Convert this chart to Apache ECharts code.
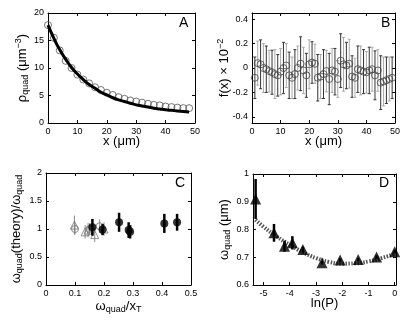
<!DOCTYPE html>
<html>
<head>
    <script src="https://cdn.jsdelivr.net/npm/echarts@6/dist/echarts.min.js"></script>
</head>
<body style="margin:0">
<div id="main" style="width: 415px; height: 323px;"></div>
</body>
</html>

<script type="text/javascript">
    // panel A
    const rhoX = [0, 2, 4, 6, 8, 10, 12, 14, 16, 18, 20, 22, 24, 26, 28, 30, 32, 34, 36, 38, 40, 42, 44, 46, 48]
    const rhoVal = [17.8, 15.5, 13.2, 11.3, 10.0, 8.8, 7.9, 7.2, 6.5, 6.0, 5.5, 5.1, 4.7, 4.4, 4.1, 3.9, 3.7, 3.5, 3.3, 3.2, 3.0, 2.9, 2.8, 2.7, 2.7]
    const rhoFit = [17.8, 15.4, 13.3, 11.6, 10.1, 8.9, 7.9, 7.0, 6.3, 5.6, 5.1, 4.6, 4.2, 3.9, 3.6, 3.3, 3.1, 2.9, 2.7, 2.55, 2.4, 2.3, 2.2, 2.1, 2.0]

    // panel B
    const fX = [1, 2, 3, 4, 5, 6, 7, 8, 9, 10, 11, 12, 13, 14, 15, 16, 17, 18, 19, 20, 21, 22, 23, 24, 25,
        26, 27, 28, 29, 30, 31, 32, 33, 34, 35, 36, 37, 38, 39, 40, 41, 42, 43, 44, 45, 46, 47, 48, 49]
    const fVal = [-0.08, 0.04, 0.03, 0, -0.01, -0.025, -0.035, -0.05, -0.06, -0.03, 0, 0.02, -0.06, -0.08, -0.05,
        0, 0.035, -0.02, -0.06, 0.03, 0.045, 0.035, -0.08, -0.07, -0.05, -0.025, -0.09, -0.02, -0.03, -0.09,
        0.06, 0.03, 0.02, 0.035, -0.07, -0.08, -0.01, -0.02, -0.03, -0.035, -0.02, -0.01, -0.06, -0.02, -0.12,
        -0.11, -0.1, -0.09, -0.08]
    const fErr = [0.17, 0.18, 0.2, 0.2, 0.19, 0.17, 0.18, 0.2, 0.17, 0.19, 0.21, 0.18, 0.19, 0.17, 0.2, 0.18, 0.22,
        0.19, 0.18, 0.2, 0.17, 0.16, 0.19, 0.18, 0.2, 0.17, 0.21, 0.18, 0.19, 0.15, 0.22, 0.22, 0.19, 0.2, 0.17,
        0.16, 0.19, 0.2, 0.18, 0.17, 0.19, 0.18, 0.2, 0.17, 0.22, 0.2, 0.19, 0.18, 0.17]

    // panel C
    const triX = [0.098, 0.135, 0.145, 0.168, 0.2]
    const triVal = [1.07, 0.95, 0.98, 0.9, 1.0]
    const triErr = [0.17, 0.12, 0.13, 0.13, 0.12]
    const ocX = [0.1, 0.15, 0.185]
    const ocVal = [1.0, 1.0, 1.05]
    const ocErr = [0.1, 0.1, 0.12]
    const dotX = [0.16, 0.195, 0.252, 0.285, 0.29, 0.408, 0.452]
    const dotVal = [1.03, 0.99, 1.12, 0.98, 0.95, 1.1, 1.12]
    const dotErr = [0.15, 0.1, 0.17, 0.14, 0.12, 0.17, 0.15]

    // panel D
    const lnP = [-5.3, -4.6, -4.2, -3.9, -3.5, -2.77, -2.08, -1.39, -0.69, 0]
    const wQuad = [0.91, 0.788, 0.74, 0.752, 0.728, 0.68, 0.69, 0.692, 0.701, 0.72]
    const wErr = [0.072, 0.032, 0.02, 0.024, 0.01, 0.006, 0.006, 0.006, 0.006, 0.006]
    const fitLnP = [-5.3, -5, -4.5, -4, -3.5, -3, -2.5, -2, -1.5, -1, -0.5, 0]
    const fitW = [0.835, 0.81, 0.775, 0.745, 0.718, 0.697, 0.683, 0.677, 0.678, 0.685, 0.697, 0.712]

    const font = 'Liberation Sans'
    const rich = {
        n: {fontSize: 13, fontFamily: font, color: '#000'},
        sub: {fontSize: 9, fontFamily: font, color: '#000', padding: [7, 0, 0, 0]},
        sup: {fontSize: 9, fontFamily: font, color: '#000', padding: [0, 0, 7, 0]}
    }

    function pairs(xs, ys, es) {
        return xs.map((x, i) => es ? [x, ys[i], es[i]] : [x, ys[i]])
    }

    // main axis + mirrored axis (top / right) carrying only inside ticks
    function axes(dim, grid, min, max, ticks, name, gap) {
        let main = {
            type: 'value', gridIndex: grid, min: min, max: max,
            position: dim === 'x' ? 'bottom' : 'left',
            splitLine: {show: false},
            axisLine: {onZero: false, lineStyle: {color: '#000', width: 1}},
            axisTick: {inside: true, length: 3, customValues: ticks, lineStyle: {color: '#000'}},
            axisLabel: {customValues: ticks, fontSize: 9, fontFamily: font, color: '#000', margin: 4},
            name: name, nameLocation: 'middle', nameGap: gap, nameMoveOverlap: false,
            nameTextStyle: {rich: rich}
        }
        let mirror = {
            type: 'value', gridIndex: grid, min: min, max: max,
            position: dim === 'x' ? 'top' : 'right',
            splitLine: {show: false},
            axisLine: {onZero: false, lineStyle: {color: '#000', width: 1}},
            axisTick: {inside: true, length: 3, customValues: ticks, lineStyle: {color: '#000'}},
            axisLabel: {show: false}
        }
        return [main, mirror]
    }

    function errBar(color, width, cap) {
        return function (params, api) {
            let x = api.value(0), y = api.value(1), e = api.value(2)
            let top = api.coord([x, y + e])
            let bot = api.coord([x, y - e])
            let c = typeof color === 'function' ? color(params.dataIndex) : color
            let st = {stroke: c, lineWidth: width}
            let kids = [{type: 'line', shape: {x1: top[0], y1: top[1], x2: bot[0], y2: bot[1]}, style: st}]
            if (cap) {
                kids.push({type: 'line', shape: {x1: top[0] - cap, y1: top[1], x2: top[0] + cap, y2: top[1]}, style: st})
                kids.push({type: 'line', shape: {x1: bot[0] - cap, y1: bot[1], x2: bot[0] + cap, y2: bot[1]}, style: st})
            }
            return {type: 'group', children: kids}
        }
    }

    let chart = echarts.init(document.getElementById('main'))

    let ax = [
        axes('x', 0, 0, 50, [0, 10, 20, 30, 40, 50], '{n|x (μm)}', 12),
        axes('x', 1, 0, 50, [0, 10, 20, 30, 40, 50], '{n|x (μm)}', 12),
        axes('x', 2, 0, 0.5, [0, 0.1, 0.2, 0.3, 0.4, 0.5], '{n|ω}{sub|quad}{n|/x}{sub|T}', 13),
        axes('x', 3, -5.4, 0.05, [-5, -4, -3, -2, -1, 0], '{n|ln(P)}', 12)
    ]
    let ay = [
        axes('y', 0, 0, 20, [0, 5, 10, 15, 20], '{n|ρ}{sub|quad}{n| (μm}{sup|−3}{n|)}', 18),
        axes('y', 1, -0.45, 0.45, [-0.4, -0.2, 0, 0.2, 0.4], '{n|f(x) × 10}{sup|−2}', 20),
        axes('y', 2, 0, 2, [0, 0.5, 1, 1.5, 2], '{n|ω}{sub|quad}{n|(theory)/ω}{sub|quad}', 22),
        axes('y', 3, 0.6, 1, [0.6, 0.7, 0.8, 0.9, 1], '{n|ω}{sub|quad}{n| (μm)}', 21)
    ]
    let xAxis = [], yAxis = []
    ax.forEach(p => xAxis.push(p[0], p[1]))
    ay.forEach(p => yAxis.push(p[0], p[1]))

    let option = {
        animation: false,
        backgroundColor: '#fff',
        grid: [
            {left: 48, top: 13, width: 147, height: 110},
            {left: 252, top: 13, width: 143, height: 110},
            {left: 46, top: 173, width: 145, height: 112},
            {left: 253, top: 174, width: 143, height: 111}
        ],
        xAxis: xAxis,
        yAxis: yAxis,
        graphic: [
            {type: 'text', left: 179, top: 16, style: {text: 'A', fontSize: 14, fontFamily: font, fill: '#000'}},
            {type: 'text', left: 381, top: 16, style: {text: 'B', fontSize: 14, fontFamily: font, fill: '#000'}},
            {type: 'text', left: 175, top: 176, style: {text: 'C', fontSize: 14, fontFamily: font, fill: '#000'}},
            {type: 'text', left: 379, top: 176, style: {text: 'D', fontSize: 14, fontFamily: font, fill: '#000'}}
        ],
        series: [
            // A
            {
                type: 'scatter', xAxisIndex: 0, yAxisIndex: 0, data: pairs(rhoX, rhoVal),
                symbol: 'circle', symbolSize: 7,
                itemStyle: {color: 'rgba(0,0,0,0)', borderColor: '#555', borderWidth: 1}
            },
            {
                type: 'line', xAxisIndex: 0, yAxisIndex: 0, data: pairs(rhoX, rhoFit),
                smooth: true, showSymbol: false, lineStyle: {color: '#000', width: 3}, z: 3
            },
            // B
            {
                type: 'custom', xAxisIndex: 2, yAxisIndex: 2, data: pairs(fX, fVal, fErr),
                renderItem: errBar(i => i % 2 ? '#aaa' : '#333', 1, 1.5), z: 1
            },
            {
                type: 'scatter', xAxisIndex: 2, yAxisIndex: 2, data: pairs(fX, fVal),
                symbol: 'circle', symbolSize: 7,
                itemStyle: {color: 'rgba(0,0,0,0)', borderColor: '#444', borderWidth: 1}, z: 3
            },
            // C
            {
                type: 'custom', xAxisIndex: 4, yAxisIndex: 4, data: pairs(triX, triVal, triErr),
                renderItem: errBar('#888', 1, 0), z: 1
            },
            {
                type: 'custom', xAxisIndex: 4, yAxisIndex: 4, data: pairs(ocX, ocVal, ocErr),
                renderItem: errBar('#888', 1, 0), z: 1
            },
            {
                type: 'scatter', xAxisIndex: 4, yAxisIndex: 4, data: pairs(triX, triVal),
                symbol: 'triangle', symbolSize: 8,
                itemStyle: {color: 'rgba(0,0,0,0)', borderColor: '#777', borderWidth: 1}, z: 2
            },
            {
                type: 'scatter', xAxisIndex: 4, yAxisIndex: 4, data: pairs(ocX, ocVal),
                symbol: 'circle', symbolSize: 7,
                itemStyle: {color: 'rgba(0,0,0,0)', borderColor: '#777', borderWidth: 1}, z: 2
            },
            {
                type: 'custom', xAxisIndex: 4, yAxisIndex: 4, data: pairs(dotX, dotVal, dotErr),
                renderItem: errBar('#000', 2.5, 0), z: 3
            },
            {
                type: 'scatter', xAxisIndex: 4, yAxisIndex: 4, data: pairs(dotX, dotVal),
                symbol: 'circle', symbolSize: 8, itemStyle: {color: '#000'}, z: 4
            },
            // D
            {
                type: 'line', xAxisIndex: 6, yAxisIndex: 6, data: pairs(fitLnP, fitW),
                smooth: true, showSymbol: false,
                lineStyle: {color: '#555', width: 4, type: [1.5, 1.5]}, z: 1
            },
            {
                type: 'custom', xAxisIndex: 6, yAxisIndex: 6, data: pairs(lnP, wQuad, wErr),
                renderItem: errBar('#000', 2.5, 0), z: 2
            },
            {
                type: 'scatter', xAxisIndex: 6, yAxisIndex: 6, data: pairs(lnP, wQuad),
                symbol: 'triangle', symbolSize: 11, itemStyle: {color: '#000'}, z: 3
            }
        ]
    };
    chart.setOption(option);
</script>
